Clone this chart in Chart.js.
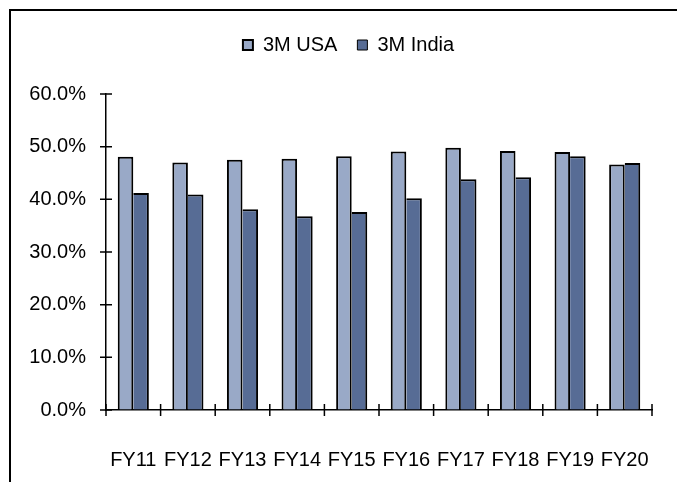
<!DOCTYPE html>
<html>
<head>
    <title>3M USA vs 3M India</title>
    <meta charset="utf-8">
    <script src="https://cdn.jsdelivr.net/npm/chart.js"></script>
    <style>
        body { margin: 0; background: #fff; }
        .wrap { position: relative; width: 677px; height: 482px; overflow: hidden; }
        .frame { position: absolute; left: 9px; top: 9px; width: 700px; height: 500px; border-left: 2px solid #000; border-top: 2px solid #000; pointer-events: none; }
        canvas { position: absolute; left: 0; top: 0; }
    </style>
</head>
<body>
<div class="wrap">
    <canvas id="chart" width="677" height="482"></canvas>
    <div class="frame"></div>
</div>

<script>
const years = ["FY11", "FY12", "FY13", "FY14", "FY15", "FY16", "FY17", "FY18", "FY19", "FY20"];
const usaShare = [48.1, 47.0, 47.5, 47.7, 48.2, 49.1, 49.8, 49.2, 49.0, 46.6];
const indiaShare = [41.2, 40.9, 38.1, 36.8, 37.6, 40.2, 43.8, 44.2, 48.2, 46.9];
const seriesNames = ["3M USA", "3M India"];

// tick marks that cross both axes, plus legend spacing tweaks
const crossTicks = {
    id: 'crossTicks',
    beforeInit(chart) {
        const fit = chart.legend.fit;
        chart.legend.fit = function () {
            fit.call(this);
            this.height = 79;
        };
    },
    afterLayout(chart) {
        chart.legend.left += 35;
    },
    afterDatasetsDraw(chart) {
        const { ctx, scales: { x, y } } = chart;
        ctx.save();
        ctx.strokeStyle = '#000';
        ctx.lineWidth = 1.5;
        ctx.beginPath();
        y.ticks.forEach(t => {
            const py = y.getPixelForValue(t.value);
            ctx.moveTo(x.left - 6, py);
            ctx.lineTo(x.left + 6, py);
        });
        for (let i = 0; i <= years.length; i++) {
            const px = x.getPixelForValue(i - 0.5);
            ctx.moveTo(px, y.bottom - 6);
            ctx.lineTo(px, y.bottom + 6);
        }
        ctx.stroke();
        ctx.restore();
    }
};

Chart.defaults.font.family = "'Liberation Sans', Arial, sans-serif";
Chart.defaults.font.size = 20;
Chart.defaults.color = '#000';

new Chart(document.getElementById('chart').getContext('2d'), {
    type: 'bar',
    data: {
        labels: years,
        datasets: [
            { label: seriesNames[0], data: usaShare, backgroundColor: '#99A9C7', borderColor: '#000',
              borderWidth: 2, borderSkipped: 'start' },
            // left edge shares the USA bar's right outline
            { label: seriesNames[1], data: indiaShare, backgroundColor: '#576C95', borderColor: '#000',
              borderWidth: { top: 2, right: 2, bottom: 0, left: 0 }, borderSkipped: 'start' }
        ]
    },
    options: {
        responsive: false,
        animation: false,
        layout: { padding: { left: 10, right: 25, top: 15, bottom: 0 } },
        datasets: { bar: { categoryPercentage: 0.57, barPercentage: 1.0 } },
        plugins: {
            legend: {
                position: 'top',
                labels: { boxWidth: 10, boxHeight: 10, padding: 20, font: { size: 20 } }
            },
            tooltip: { enabled: false }
        },
        scales: {
            x: {
                grid: { drawOnChartArea: false, drawTicks: false },
                border: { color: '#000', width: 1.5 },
                ticks: { padding: 38, autoSkip: false, maxRotation: 0 },
                afterFit: s => { s.height = 72; s.paddingLeft = 0; s.paddingRight = 0; }
            },
            y: {
                min: 0,
                max: 60,
                grid: { drawOnChartArea: false, drawTicks: false },
                border: { color: '#000', width: 1.5 },
                ticks: { stepSize: 10, padding: 20, callback: v => v.toFixed(1) + '%' },
                afterFit: s => { s.width = 96; }
            }
        }
    },
    plugins: [crossTicks]
});
</script>
</body>
</html>
